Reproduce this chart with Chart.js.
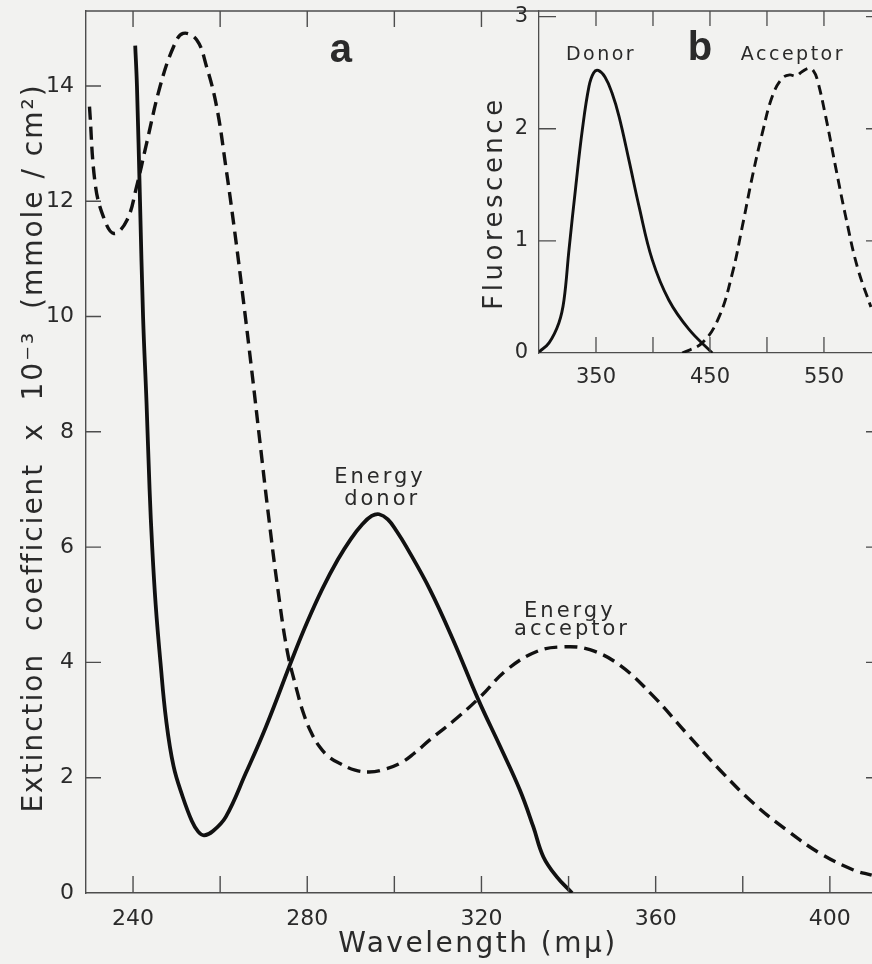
<!DOCTYPE html>
<html><head><meta charset="utf-8">
<script src="https://cdn.jsdelivr.net/npm/chart.js@4.4.1/dist/chart.umd.min.js"></script>
<style>
html,body{margin:0;padding:0;background:#f2f2f0;overflow:hidden;width:872px;height:964px;}
#wrap{position:relative;width:900px;height:964px;}
canvas{position:absolute;left:0;top:0;}
</style></head><body>
<div id="wrap"><canvas id="main" width="900" height="964"></canvas><canvas id="inset" width="900" height="964"></canvas></div>
<script>
// ---------- DATA ----------
// Panel a: absorption (extinction coefficient x 10^-3) vs wavelength (mμ)
const donorAbsWavelength = [240.5,240.9,241.6,242.3,243.1,243.8,244.4,245.2,246.3,247.6,249.3,251.4,253.5,255.0,256.3,258.3,261.3,265.9,270.5,276.7,280.0,283.5,287.0,290.0,292.7,294.8,296.5,298.5,300.5,302.8,308.2,313.5,319.3,324.3,328.8,331.9,334.2,337.3,340.8];
const donorAbsValue      = [14.7,14.0,12.0,10.0,8.5,7.0,6.0,5.0,4.0,3.0,2.2,1.67,1.25,1.06,1.0,1.07,1.32,2.08,2.88,4.09,4.7,5.28,5.78,6.14,6.4,6.54,6.57,6.48,6.28,6.0,5.26,4.39,3.35,2.54,1.79,1.15,0.63,0.28,0.0];
const acceptorAbsWavelength = [230.0,231.3,233.2,235.6,238.6,240.8,243.1,246.2,249.3,251.5,254.6,256.9,259.2,261.3,263.3,265.3,267.2,269.1,271.1,273.2,275.4,277.5,279.0,280.8,282.8,285.0,287.4,291.0,294.2,297.0,301.3,304.5,308.2,314.3,319.7,325.8,332.7,338.8,344.9,351.8,359.4,367.1,374.8,382.4,390.1,397.7,405.4,409.6];
const acceptorAbsValue      = [13.64,12.31,11.73,11.44,11.67,12.25,13.0,13.99,14.68,14.91,14.8,14.33,13.64,12.6,11.5,10.3,9.1,7.85,6.55,5.3,4.2,3.55,3.15,2.8,2.54,2.36,2.25,2.13,2.10,2.13,2.25,2.42,2.66,3.03,3.4,3.87,4.19,4.27,4.22,3.95,3.42,2.77,2.13,1.56,1.09,0.69,0.40,0.31];
// Panel b: fluorescence vs wavelength (mμ)
const donorFluoWavelength = [300,308.8,317.5,321.9,326.3,332.2,338.0,343.9,348.0,352.0,358.0,364.0,370.2,378.9,387.7,399.4,414.0,431.6,452.0];
const donorFluoValue      = [0.01,0.09,0.27,0.47,0.92,1.48,1.99,2.38,2.50,2.52,2.46,2.32,2.11,1.72,1.31,0.83,0.47,0.21,0.0];
const acceptorFluoWavelength = [425.7,443.2,457.9,469.6,478.4,487.1,495.9,504.7,513.4,520.0,525.2,531.0,536.8,540.5,544.1,551.5,560.2,569.0,579.2,591.2];
const acceptorFluoValue      = [0.0,0.09,0.32,0.71,1.13,1.57,1.96,2.29,2.45,2.48,2.47,2.51,2.54,2.52,2.44,2.11,1.66,1.22,0.77,0.41];
// Tick values and labels
const mainXTicks = [240,260,280,300,320,340,360,380,400];
const mainXLabeled = [240,280,320,360,400];
const mainXTopTicks = [240,260,280,300,320];
const mainYTicks = [0,2,4,6,8,10,12,14];
const mainYRightTicks = [2,4,6,8];
const insetXTicks = [350,400,450,500,550];
const insetXLabeled = [350,450,550];
const insetYTicks = [0,1,2,3];
// Text
const mainYTitle = 'Extinction  coefficient  x  10\u207B\u00B3  (mmole / cm\u00B2)';
const mainXTitle = 'Wavelength (m\u03BC)';
const insetYTitle = 'Fluorescence';

// ---------- STYLE ----------
const INK = '#111111', AXIS = '#4d4d4d', TEXT = '#2a2a2a';
const FONT = "'DejaVu Sans', sans-serif";
const BOLD = "bold 40px 'Liberation Sans', Arial, sans-serif";

const mainNotes = [
  {text:'a', x:287.7, y:14.41, font:BOLD, sp:'0px'},
  {text:'Energy', x:296.7, y:7.11, font:"21px "+FONT, sp:'3px'},
  {text:'donor', x:297.2, y:6.73, font:"21px "+FONT, sp:'3px'},
  {text:'Energy', x:340.3, y:4.79, font:"21px "+FONT, sp:'3px'},
  {text:'acceptor', x:340.8, y:4.48, font:"21px "+FONT, sp:'3px'}
];
const insetNotes = [
  {text:'Donor', x:354.4, y:2.61, font:"19px "+FONT, sp:'2.5px'},
  {text:'b', x:441.2, y:2.61, font:BOLD, sp:'0px'},
  {text:'Acceptor', x:522.8, y:2.61, font:"19px "+FONT, sp:'2.5px'}
];

const toPts = (xs, ys) => xs.map((x, i) => ({x: x, y: ys[i]}));

function drawNotes(ctx, notes, xs, ys){
  notes.forEach(n => {
    ctx.save();
    ctx.font = n.font; ctx.fillStyle = TEXT;
    ctx.textAlign = 'center'; ctx.textBaseline = 'alphabetic';
    try { ctx.letterSpacing = n.sp; } catch(e) {}
    ctx.fillText(n.text, xs.getPixelForValue(n.x), ys.getPixelForValue(n.y));
    ctx.restore();
  });
}
function rotText(ctx, text, x, y, font, sp){
  ctx.save();
  ctx.translate(x, y); ctx.rotate(-Math.PI/2);
  ctx.font = font; ctx.fillStyle = TEXT; ctx.textAlign = 'center'; ctx.textBaseline = 'alphabetic';
  try { ctx.letterSpacing = sp; } catch(e) {}
  ctx.fillText(text, 0, 0);
  ctx.restore();
}

const mainDecor = {
  id: 'mainDecor',
  afterDraw(chart){
    const {ctx, chartArea: a, scales: {x, y}} = chart;
    ctx.save();
    ctx.strokeStyle = AXIS; ctx.lineWidth = 1.4;
    ctx.beginPath();
    ctx.moveTo(a.left, a.top); ctx.lineTo(a.right, a.top);
    mainXTicks.forEach(v => { const p = x.getPixelForValue(v); ctx.moveTo(p, a.bottom); ctx.lineTo(p, a.bottom - 17); });
    mainXTopTicks.forEach(v => { const p = x.getPixelForValue(v); ctx.moveTo(p, a.top); ctx.lineTo(p, a.top + 16); });
    mainYTicks.forEach(v => { if (v === 0) return; const p = y.getPixelForValue(v); ctx.moveTo(a.left, p); ctx.lineTo(a.left + 15, p); });
    mainYRightTicks.forEach(v => { const p = y.getPixelForValue(v); ctx.moveTo(a.right, p); ctx.lineTo(a.right - 17, p); });
    ctx.stroke();
    ctx.restore();
    rotText(ctx, mainYTitle, 42, (a.top + a.bottom) / 2 - 4, "28px " + FONT, '2px');
    ctx.save();
    ctx.font = "28px " + FONT; ctx.fillStyle = TEXT; ctx.textAlign = 'center'; ctx.textBaseline = 'alphabetic';
    try { ctx.letterSpacing = '2.5px'; } catch(e) {}
    ctx.fillText(mainXTitle, 478, 952);
    ctx.restore();
    drawNotes(ctx, mainNotes, x, y);
  }
};

const insetDecor = {
  id: 'insetDecor',
  afterDraw(chart){
    const {ctx, chartArea: a, scales: {x, y}} = chart;
    ctx.save();
    ctx.strokeStyle = AXIS; ctx.lineWidth = 1.3;
    ctx.beginPath();
    insetXTicks.forEach(v => { const p = x.getPixelForValue(v); ctx.moveTo(p, a.bottom); ctx.lineTo(p, a.bottom - 16); ctx.moveTo(p, a.top); ctx.lineTo(p, a.top + 15); });
    insetYTicks.forEach(v => { if (v === 0) return; const p = y.getPixelForValue(v); ctx.moveTo(a.left, p); ctx.lineTo(a.left + 17, p); ctx.moveTo(a.right, p); ctx.lineTo(a.right - 17, p); });
    ctx.stroke();
    ctx.restore();
    rotText(ctx, insetYTitle, 502, 203, "26px " + FONT, '3.5px');
    drawNotes(ctx, insetNotes, x, y);
  }
};

function zeroPad(s){ s.paddingTop = 0; s.paddingBottom = 0; s.paddingLeft = 0; s.paddingRight = 0; }

const lineDs = (label, xs, ys, width, dash) => ({
  label: label, data: toPts(xs, ys), showLine: true, borderColor: INK, backgroundColor: INK,
  borderWidth: width, borderDash: dash, pointRadius: 0, tension: 0.4, fill: false,
  borderCapStyle: 'butt', borderJoinStyle: 'round'
});

new Chart(document.getElementById('main'), {
  type: 'scatter',
  data: { datasets: [
    lineDs('Energy donor', donorAbsWavelength, donorAbsValue, 3.8, []),
    lineDs('Energy acceptor', acceptorAbsWavelength, acceptorAbsValue, 3.4, [13, 7])
  ]},
  options: {
    responsive: false, animation: false, devicePixelRatio: 1,
    layout: {padding: {top: 11, right: 17, left: 0, bottom: 0}},
    plugins: {legend: {display: false}, tooltip: {enabled: false}},
    scales: {
      x: {
        type: 'linear', min: 229.2, max: 412.2,
        afterBuildTicks: s => { s.ticks = mainXTicks.map(v => ({value: v})); },
        afterFit: s => { s.height = 71; zeroPad(s); },
        grid: {display: false, drawTicks: false},
        border: {display: true, color: AXIS, width: 1.4},
        ticks: {autoSkip: false, maxRotation: 0, padding: 13, color: TEXT, font: {family: FONT, size: 22},
          callback: v => mainXLabeled.includes(v) ? String(v) : ''}
      },
      y: {
        type: 'linear', min: 0, max: 15.3,
        afterBuildTicks: s => { s.ticks = mainYTicks.map(v => ({value: v})); },
        afterFit: s => { s.width = 86; zeroPad(s); },
        grid: {display: false, drawTicks: false},
        border: {display: true, color: AXIS, width: 1.4},
        ticks: {autoSkip: false, padding: 12, color: TEXT, font: {family: FONT, size: 22}, callback: v => String(v)}
      }
    }
  },
  plugins: [mainDecor]
});

new Chart(document.getElementById('inset'), {
  type: 'scatter',
  data: { datasets: [
    lineDs('Donor', donorFluoWavelength, donorFluoValue, 2.9, []),
    lineDs('Acceptor', acceptorFluoWavelength, acceptorFluoValue, 2.9, [10, 6])
  ]},
  options: {
    responsive: false, animation: false, devicePixelRatio: 1,
    layout: {padding: {top: 11, right: 17, left: 0, bottom: 0}},
    plugins: {legend: {display: false}, tooltip: {enabled: false}},
    scales: {
      x: {
        type: 'linear', min: 300, max: 601.8,
        afterBuildTicks: s => { s.ticks = insetXTicks.map(v => ({value: v})); },
        afterFit: s => { s.height = 611; zeroPad(s); },
        grid: {display: false, drawTicks: false},
        border: {display: true, color: AXIS, width: 1.3},
        ticks: {autoSkip: false, maxRotation: 0, padding: 12, color: TEXT, font: {family: FONT, size: 21},
          callback: v => insetXLabeled.includes(v) ? String(v) : ''}
      },
      y: {
        type: 'linear', min: 0, max: 3.05,
        afterBuildTicks: s => { s.ticks = insetYTicks.map(v => ({value: v})); },
        afterFit: s => { s.width = 539; zeroPad(s); },
        grid: {display: false, drawTicks: false},
        border: {display: true, color: AXIS, width: 1.3},
        ticks: {autoSkip: false, padding: 11, color: TEXT, font: {family: FONT, size: 21}, callback: v => String(v)}
      }
    }
  },
  plugins: [insetDecor]
});
</script>
</body></html>
